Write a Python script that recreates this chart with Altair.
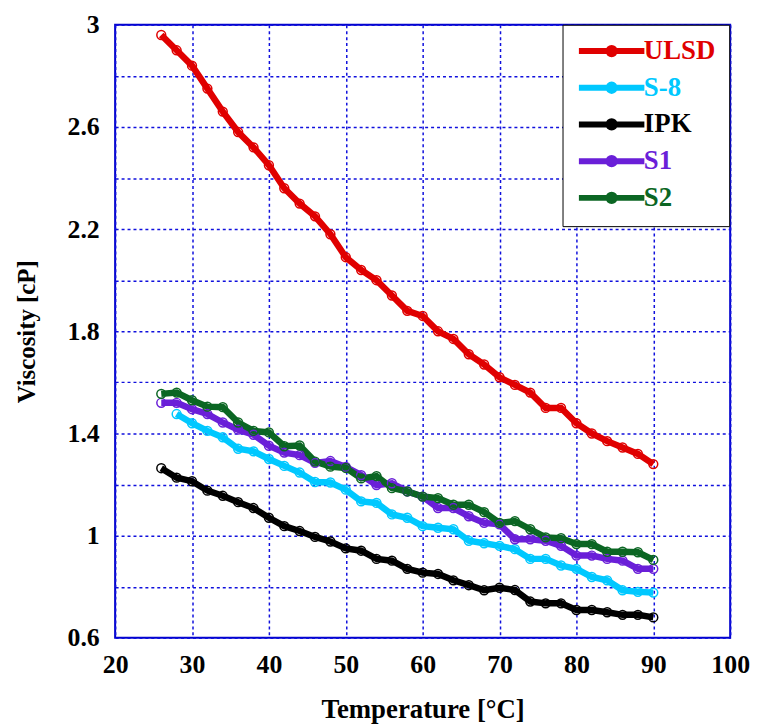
import altair as alt
import pandas as pd

# ---- data ----
temps = list(range(26, 91, 2))          # 26..90 step 2
s8_temps = list(range(28, 91, 2))       # S-8 starts at 28

ulsd = [2.96, 2.90, 2.84, 2.75, 2.66, 2.58, 2.52, 2.45, 2.36, 2.30, 2.25, 2.18,
        2.09, 2.04, 2.00, 1.94, 1.88, 1.86, 1.80, 1.77, 1.71, 1.67, 1.62, 1.59,
        1.56, 1.50, 1.50, 1.44, 1.40, 1.37, 1.345, 1.32, 1.28]
s8 = [1.476, 1.44, 1.41, 1.385, 1.34, 1.33, 1.30, 1.273, 1.247, 1.21, 1.208, 1.18,
      1.134, 1.128, 1.083, 1.07, 1.037, 1.031, 1.025, 0.98, 0.97,
      0.96, 0.947, 0.909, 0.909, 0.883, 0.87, 0.838, 0.825, 0.786, 0.78, 0.777]
ipk = [1.264, 1.227, 1.213, 1.176, 1.156, 1.131, 1.108, 1.07, 1.037, 1.018, 0.995,
       0.977, 0.95, 0.941, 0.909, 0.902, 0.87, 0.855, 0.85, 0.825, 0.806, 0.786,
       0.796, 0.787, 0.742, 0.735, 0.735, 0.709, 0.709, 0.70, 0.69, 0.69, 0.68]
s1 = [1.52, 1.52, 1.495, 1.476, 1.443, 1.415, 1.395, 1.352, 1.325, 1.315, 1.285,
      1.292, 1.269, 1.237, 1.198, 1.205, 1.173, 1.153, 1.108, 1.108, 1.076, 1.05,
      1.044, 0.986, 0.986, 0.98, 0.96, 0.922, 0.922, 0.909, 0.902, 0.87, 0.87]
s2 = [1.555, 1.56, 1.53, 1.505, 1.503, 1.443, 1.41, 1.404, 1.35, 1.353, 1.29,
      1.27, 1.265, 1.224, 1.233, 1.186, 1.173, 1.153, 1.147, 1.121, 1.121, 1.092,
      1.05, 1.057, 1.025, 0.993, 0.99, 0.967, 0.967, 0.937, 0.937, 0.935, 0.905]

series_names = ["ULSD", "S-8", "IPK", "S1", "S2"]
series_colors = ["#E00000", "#00C8FF", "#000000", "#6A1FD8", "#0B6623"]

x_ticks = list(range(20, 101, 10))
y_ticks = [round(0.6 + 0.2 * i, 1) for i in range(13)]
y_labels = ["0.6", "1", "1.4", "1.8", "2.2", "2.6", "3"]

rows = []
for name, xs, ys in [("ULSD", temps, ulsd), ("S-8", s8_temps, s8), ("IPK", temps, ipk),
                     ("S1", temps, s1), ("S2", temps, s2)]:
    for t, v in zip(xs, ys):
        rows.append({"Fuel": name, "T": t, "V": v})
df = pd.DataFrame(rows)

label_list = "[" + ",".join("'" + s + "'" for s in y_labels) + "]"
y_label_expr = (f"indexof({label_list}, format(datum.value, '~g')) >= 0 "
                "? format(datum.value, '~g') : ''")

legend_path = "M-1,0L5.6,0M1.98,0A0.32,0.32,0,1,1,2.62,0A0.32,0.32,0,1,1,1.98,0"

base = alt.Chart(df).encode(
    x=alt.X("T:Q",
            scale=alt.Scale(domain=[20, 100], nice=False),
            axis=alt.Axis(values=x_ticks, title="Temperature [°C]", format="d",
                          labelPadding=14, titlePadding=19, titleFontSize=27)),
    y=alt.Y("V:Q",
            scale=alt.Scale(domain=[0.6, 3.0], nice=False, zero=False),
            axis=alt.Axis(values=y_ticks, title="Viscosity [cP]", labelExpr=y_label_expr,
                          labelPadding=16, titlePadding=28, titleFontSize=25)),
    color=alt.Color("Fuel:N",
                    scale=alt.Scale(domain=series_names, range=series_colors),
                    legend=alt.Legend(title=None, orient="none", legendX=451, legendY=0,
                                      strokeColor="#000000", fillColor="#FFFFFF",
                                      padding=13, rowPadding=6,
                                      symbolType=legend_path, symbolSize=400,
                                      symbolStrokeWidth=6, labelOffset=42,
                                      labelFont="Liberation Serif", labelFontWeight="bold",
                                      labelFontSize=27,
                                      labelColor=alt.ExprRef("scale('color', datum.value)"))),
)

lines = base.mark_line(strokeWidth=6.5)
points = base.mark_point(filled=False, size=80, strokeWidth=1.5, shape="circle", opacity=1)

chart = alt.layer(lines, points).properties(
    width=620, height=618,
    padding={"left": 108, "top": 14, "right": 22, "bottom": 86},
    autosize=alt.AutoSizeParams(type="none"),
).configure_view(
    stroke="#0000CC", strokeWidth=2
).configure_axis(
    domain=False, ticks=False, grid=True,
    gridColor="#1010DD", gridDash=[3, 3], gridWidth=1.5,
    labelFont="Liberation Serif", labelFontWeight="bold", labelFontSize=26,
    labelColor="#000000", labelFlush=False, labelOverlap=False,
    titleFont="Liberation Serif", titleFontWeight="bold", titleColor="#000000",
)

chart.save("out.html", embed_options={"renderer": "svg", "actions": False})
